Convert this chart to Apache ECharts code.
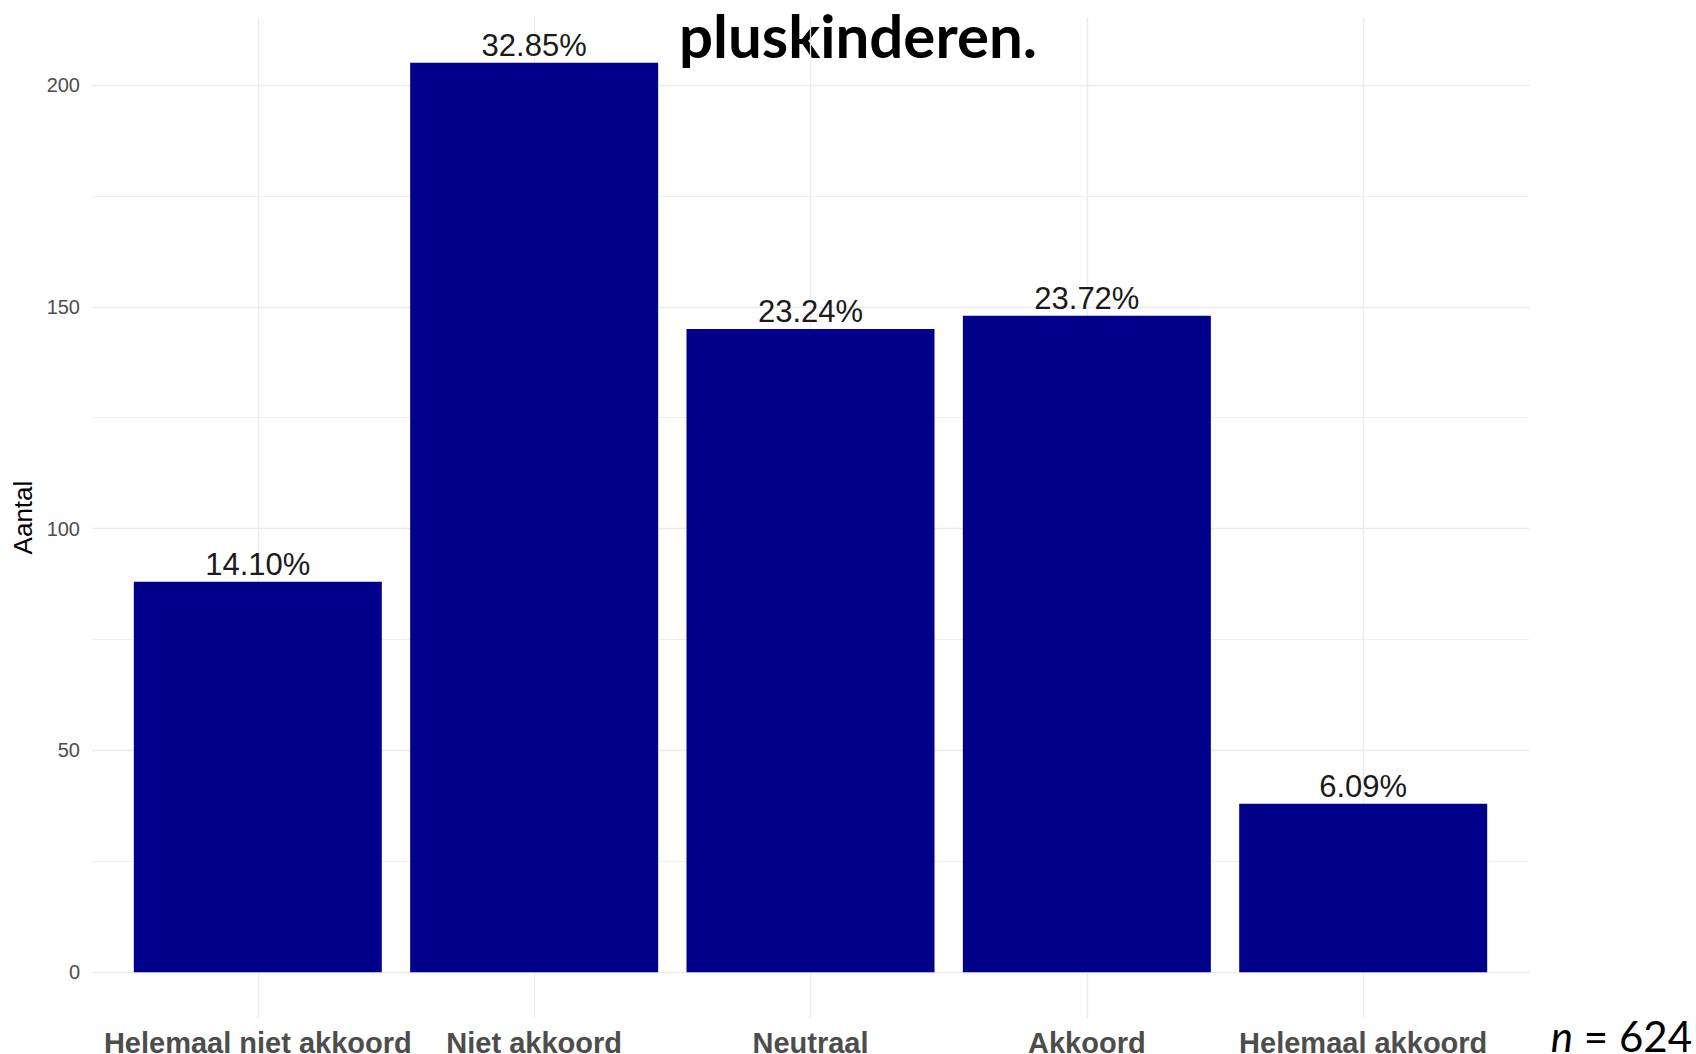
<!DOCTYPE html>
<html>
<head>
<meta charset="utf-8">
<script src="https://cdn.jsdelivr.net/npm/echarts@6/dist/echarts.min.js"></script>
<style>
html,body{margin:0;padding:0;background:#fff;}
#chart{width:1696px;height:1054px;}
</style>
</head>
<body>
<div id="chart"></div>
<script>
const categories = ['Helemaal niet akkoord', 'Niet akkoord', 'Neutraal', 'Akkoord', 'Helemaal akkoord'];
const counts = [88, 205, 145, 148, 38];
const percentLabels = ['14.10%', '32.85%', '23.24%', '23.72%', '6.09%'];
const categoryPositions = [1, 2, 3, 4, 5];
const yMajorTicks = [0, 50, 100, 150, 200];
const yMinorTicks = [25, 75, 125, 175];
const titleText = 'pluskinderen.';
const yAxisTitle = 'Aantal';
const sampleSize = 624;

const gridColor = '#ebebeb';
const chart = echarts.init(document.getElementById('chart'), null, {renderer: 'svg'});

const gridLines = [].concat(
  yMinorTicks.map(v => ({yAxis: v, lineStyle: {color: gridColor, width: 0.8, type: 'solid'}})),
  yMajorTicks.map(v => ({yAxis: v, lineStyle: {color: gridColor, width: 1.3, type: 'solid'}})),
  categoryPositions.map(v => ({xAxis: v, lineStyle: {color: gridColor, width: 1.3, type: 'solid'}}))
);

chart.setOption({
  animation: false,
  backgroundColor: '#ffffff',
  grid: {left: 92, right: 167, top: 17.4, height: 1000.3, containLabel: false, outerBoundsMode: 'none'},
  xAxis: {
    type: 'value', min: 0.4, max: 5.6,
    axisLine: {show: false}, axisTick: {show: false}, splitLine: {show: false},
    axisLabel: {
      customValues: categoryPositions,
      formatter: v => categories[Math.round(v) - 1] || '',
      fontFamily: 'Liberation Sans', fontWeight: 'bold', fontSize: 29,
      color: '#4d4d4d', margin: 11
    }
  },
  yAxis: {
    type: 'value', min: -10.25, max: 215.25,
    axisLine: {show: false}, axisTick: {show: false}, splitLine: {show: false},
    axisLabel: {
      customValues: yMajorTicks,
      fontFamily: 'Liberation Sans', fontSize: 20, color: '#4d4d4d', margin: 12
    },
    name: yAxisTitle, nameLocation: 'middle', nameGap: 47,
    nameTextStyle: {fontFamily: 'Liberation Sans', fontSize: 26, color: '#000000'}
  },
  series: [
    {
      type: 'line', data: [], z: 0, silent: true,
      markLine: {silent: true, z: 0, symbol: 'none', label: {show: false}, data: gridLines}
    },
    {
      type: 'bar', z: 2,
      data: categoryPositions.map((x, i) => [x, counts[i]]),
      barWidth: 248,
      itemStyle: {color: '#00008b'},
      label: {
        show: true, position: 'top', distance: 2,
        formatter: p => percentLabels[p.dataIndex],
        fontFamily: 'Liberation Sans', fontSize: 31, color: '#1a1a1a'
      }
    }
  ],
  graphic: [
    {
      type: 'text', x: 858, y: 35,
      style: {text: titleText, textAlign: 'center', textVerticalAlign: 'middle',
        fontFamily: 'Lato', fontWeight: 'bold', fontSize: 60, fill: '#000'}
    },
    {
      type: 'text', x: 1692, y: 1036,
      style: {text: '{i|n} = ' + sampleSize, textAlign: 'right', textVerticalAlign: 'middle',
        fontFamily: 'Lato', fontSize: 42, fill: '#000',
        rich: {i: {fontStyle: 'italic', fontFamily: 'Lato', fontSize: 42, fill: '#000'}}}
    }
  ]
});
</script>
</body>
</html>
